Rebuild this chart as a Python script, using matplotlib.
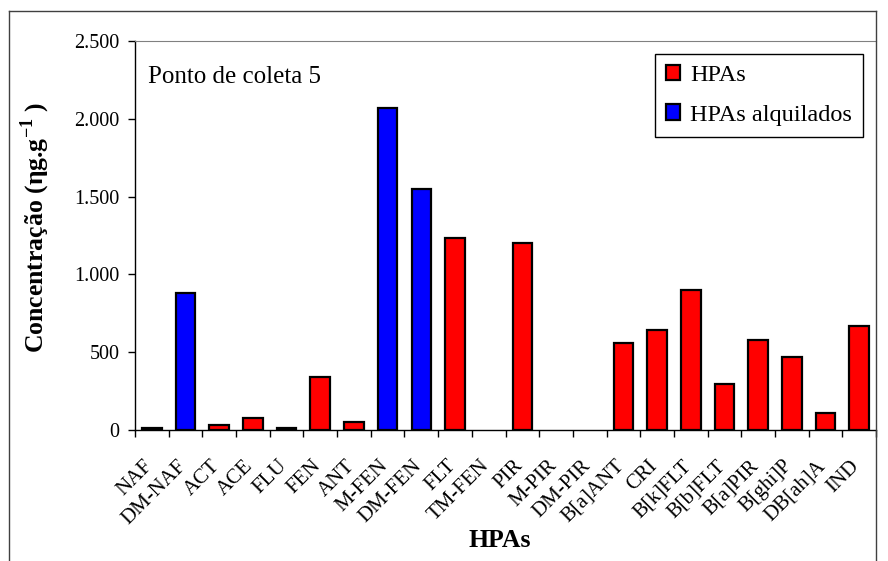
import numpy as np
import matplotlib
matplotlib.use('Agg')
import matplotlib.pyplot as plt
from matplotlib.lines import Line2D
from matplotlib.transforms import ScaledTranslation

plt.rcParams['font.family'] = ['Liberation Serif', 'DejaVu Serif']
plt.rcParams['mathtext.fontset'] = 'custom'
plt.rcParams['mathtext.rm'] = 'Liberation Serif'
plt.rcParams['mathtext.bf'] = 'Liberation Serif:bold'

# dados (ng/g) - ponto de coleta 5
compostos = ['NAF', 'DM-NAF', 'ACT', 'ACE', 'FLU', 'FEN', 'ANT', 'M-FEN', 'DM-FEN',
             'FLT', 'TM-FEN', 'PIR', 'M-PIR', 'DM-PIR', 'B[a]ANT', 'CRI', 'B[k]FLT',
             'B[b]FLT', 'B[a]PIR', 'B[ghi]P', 'DB[ah]A', 'IND']
concentracao = [11, 880, 34, 75, 10, 340, 53, 2070, 1550,
                1235, 0, 1200, 0, 0, 558, 645, 900,
                295, 580, 470, 107, 667]
alquilado = [False, True, False, False, False, False, False, True, True,
             False, True, False, True, True, False, False, False,
             False, False, False, False, False]

fig = plt.figure(figsize=(8.88, 5.61), dpi=100)
W, H = 888, 561
ax = fig.add_axes([135 / W, 1 - 430 / H, (876 - 135) / W, (430 - 41) / H])

x = np.arange(len(compostos))
vals = np.array(concentracao, dtype=float)
alq = np.array(alquilado)

for grupo, cor, nome in [(~alq, '#ff0000', 'HPAs'), (alq, '#0000ff', 'HPAs alquilados')]:
    lw = np.where(vals[grupo] > 0, 1.6, 0)
    ax.bar(x[grupo], vals[grupo], width=0.58, color=cor, edgecolor='black',
           linewidth=lw, label=nome, zorder=3)

ax.set_xlim(-0.5, len(compostos) - 0.5)
ax.set_ylim(0, 2500)
ax.set_yticks(np.arange(0, 2501, 500))
ax.set_yticklabels([f'{v:,.0f}'.replace(',', '.') for v in np.arange(0, 2501, 500)],
                   fontsize=14.5)
ax.tick_params(axis='y', direction='out', length=5, width=1, pad=6)

ax.set_xticks(x)
ax.set_xticks(np.arange(-0.5, len(compostos), 1), minor=True)
ax.tick_params(axis='x', which='major', length=0, pad=19)
ax.tick_params(axis='x', which='minor', direction='out', length=5, width=1)
ax.set_xticklabels(compostos, rotation=45, ha='right', va='top',
                   rotation_mode='anchor', fontsize=15)
desloc = ScaledTranslation(-9 / 100, 0, fig.dpi_scale_trans)
for lab in ax.get_xticklabels():
    lab.set_transform(lab.get_transform() + desloc)

ax.spines['top'].set_color('#808080')
ax.spines['right'].set_visible(False)
ax.spines['left'].set_linewidth(1)
ax.spines['bottom'].set_linewidth(1)

leg = ax.legend(loc='upper right', bbox_to_anchor=(0.9825, 0.9666), borderaxespad=0,
                fontsize=17.5, fancybox=False, edgecolor='black', framealpha=1,
                handlelength=0.6, handleheight=0.6, handletextpad=0.4,
                labelspacing=0.75, borderpad=0.45)
leg.get_frame().set_linewidth(1)

fig.text(148 / W, 1 - 83 / H, 'Ponto de coleta 5', fontsize=18, va='baseline', ha='left')
fig.text(35 / W, 1 - 228 / H, r'Concentração (ηg.g$^{\mathbf{-1}}$ )', fontsize=18.5,
         fontweight='bold', rotation=90, ha='center', va='center')
fig.text(500 / W, 1 - 547 / H, 'HPAs', fontsize=18.5, fontweight='bold',
         ha='center', va='baseline')

# moldura do gráfico
for xs, ys in [([9, 9], [11, 561]), ([9, 876], [11, 11]), ([876, 876], [11, 561])]:
    fig.add_artist(Line2D([v / W for v in xs], [1 - v / H for v in ys],
                          color='#404040', linewidth=1))

fig.savefig('out.png', dpi=100)
